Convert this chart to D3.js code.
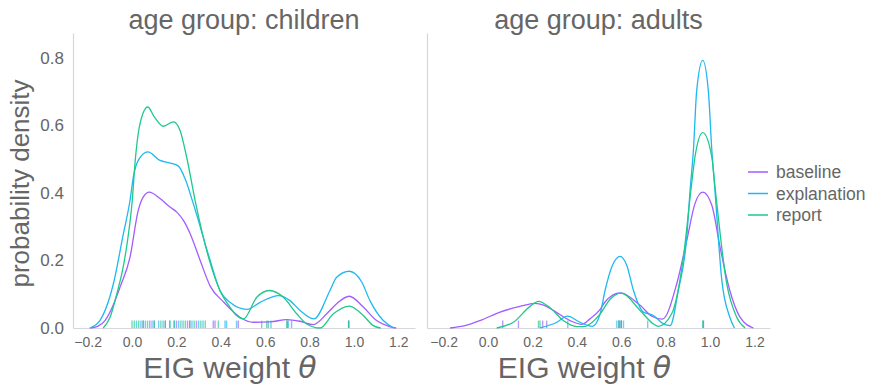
<!DOCTYPE html>
<html><head><meta charset="utf-8">
<script src="https://cdn.jsdelivr.net/npm/d3@7"></script>
<style>body{margin:0;background:#fff}svg{display:block}</style>
</head><body><div id="chart"></div>
<script>
// ---------- DATA ----------
const seriesNames = ["baseline", "explanation", "report"];
const seriesColors = ["#a35cff", "#1fb8f0", "#1ec98b"];
const panelTitles = ["age group: children", "age group: adults"];
const xTicks = [-0.2, 0.0, 0.2, 0.4, 0.6, 0.8, 1.0, 1.2];
const yTicks = [0.0, 0.2, 0.4, 0.6, 0.8];

// density curves: [x, density]
const childrenBaseline = [[-0.19,0],[-0.155,0.005],[-0.122,0.022],[-0.09,0.06],[-0.054,0.121],[-0.009,0.21],[0.028,0.348],[0.051,0.388],[0.078,0.402],[0.126,0.383],[0.171,0.358],[0.202,0.343],[0.235,0.315],[0.262,0.279],[0.307,0.2],[0.352,0.124],[0.411,0.078],[0.486,0.032],[0.546,0.017],[0.622,0.018],[0.697,0.025],[0.757,0.02],[0.817,0.01],[0.877,0.042],[0.922,0.072],[0.979,0.094],[1.042,0.062],[1.102,0.022],[1.16,0.004],[1.19,0]];
const childrenExplanation = [[-0.19,0],[-0.145,0.022],[-0.084,0.131],[-0.039,0.279],[-0.009,0.378],[0.006,0.447],[0.028,0.496],[0.071,0.521],[0.126,0.496],[0.172,0.488],[0.209,0.479],[0.24,0.44],[0.276,0.368],[0.352,0.2],[0.396,0.111],[0.441,0.076],[0.518,0.055],[0.577,0.076],[0.661,0.096],[0.712,0.081],[0.757,0.052],[0.819,0.027],[0.892,0.111],[0.922,0.15],[0.979,0.168],[1.035,0.136],[1.072,0.081],[1.132,0.022],[1.18,0]];
const childrenReport = [[-0.13,0],[-0.1,0.03],[-0.069,0.1],[-0.04,0.18],[-0.02,0.26],[0.0,0.37],[0.015,0.5],[0.036,0.605],[0.071,0.654],[0.1,0.625],[0.141,0.597],[0.187,0.61],[0.216,0.585],[0.246,0.506],[0.284,0.378],[0.351,0.195],[0.396,0.111],[0.441,0.062],[0.471,0.037],[0.502,0.027],[0.562,0.091],[0.619,0.111],[0.682,0.091],[0.742,0.042],[0.787,0.012],[0.847,0.0],[0.907,0.042],[0.979,0.065],[1.042,0.037],[1.087,0.007],[1.12,0]];
const adultsBaseline = [[-0.171,0],[-0.1,0.008],[-0.036,0.022],[0.054,0.047],[0.144,0.064],[0.212,0.073],[0.25,0.068],[0.294,0.052],[0.369,0.022],[0.422,0.011],[0.459,0.027],[0.505,0.055],[0.527,0.077],[0.595,0.104],[0.685,0.067],[0.74,0.034],[0.785,0.026],[0.85,0.131],[0.895,0.259],[0.932,0.368],[0.967,0.402],[1.008,0.363],[1.045,0.239],[1.089,0.111],[1.135,0.032],[1.195,0]];
const adultsExplanation = [[0.234,0],[0.31,0.017],[0.357,0.035],[0.414,0.017],[0.47,0.005],[0.505,0.042],[0.527,0.111],[0.56,0.185],[0.595,0.212],[0.625,0.185],[0.655,0.111],[0.70,0.047],[0.745,0.037],[0.79,0.012],[0.82,0.007],[0.857,0.111],[0.895,0.269],[0.91,0.407],[0.925,0.526],[0.94,0.704],[0.967,0.792],[0.992,0.704],[1.008,0.526],[1.022,0.407],[1.053,0.141],[1.089,0.032],[1.11,0]];
const adultsReport = [[0.039,0],[0.114,0.017],[0.189,0.064],[0.227,0.079],[0.279,0.06],[0.339,0.022],[0.40,0.004],[0.44,0.005],[0.459,0.012],[0.505,0.042],[0.55,0.085],[0.60,0.103],[0.685,0.052],[0.745,0.012],[0.767,0.005],[0.827,0.042],[0.88,0.21],[0.917,0.427],[0.932,0.506],[0.967,0.578],[1.008,0.506],[1.022,0.42],[1.075,0.131],[1.12,0.032],[1.158,0]];

const childrenRugBaseline = [0.05,0.08,0.10,0.15,0.20,0.25,0.26,0.29,0.366,0.374,0.479,0.70,0.976];
const childrenRugExplanation = [0.02,0.04,0.06,0.09,0.12,0.14,0.17,0.19,0.21,0.23,0.27,0.30,0.32,0.419,0.426,0.471,0.626,0.704,0.719,0.976];
const childrenRugReport = [0.0,0.01,0.03,0.05,0.07,0.10,0.13,0.15,0.17,0.19,0.22,0.24,0.26,0.28,0.31,0.33,0.389,0.584,0.607,0.614,0.697,0.976];
const adultsRugBaseline = [0.066,0.137,0.246,0.264,0.59,0.60,0.97];
const adultsRugExplanation = [0.359,0.58,0.59,0.60,0.61,0.719,0.97];
const adultsRugReport = [0.227,0.234,0.59,0.60,0.967];

// ---------- LAYOUT ----------
const W = 871, H = 385;
const font = "'Liberation Sans', Arial, Helvetica, sans-serif";
const textColor = "#666666";
const spineColor = "#d6d6dc";
const plotTop = 33, plotBottom = 328;
const panels = [
  {title: panelTitles[0], left: 73, right: 415, domain: [-0.266, 1.275], showY: true,
   curves: [childrenBaseline, childrenExplanation, childrenReport],
   rugs: [childrenRugBaseline, childrenRugExplanation, childrenRugReport]},
  {title: panelTitles[1], left: 427, right: 770, domain: [-0.275, 1.27], showY: false,
   curves: [adultsBaseline, adultsExplanation, adultsReport],
   rugs: [adultsRugBaseline, adultsRugExplanation, adultsRugReport]}
];

const svg = d3.select("#chart").append("svg").attr("width", W).attr("height", H);
const y = d3.scaleLinear().domain([0, 0.873]).range([plotBottom, plotTop]);
const fmt = d => (d < 0 ? "\u2212" : "") + Math.abs(d).toFixed(1);

panels.forEach(p => {
  const x = d3.scaleLinear().domain(p.domain).range([p.left, p.right]);
  const g = svg.append("g");

  const xa = g.append("g").attr("transform", `translate(0,${plotBottom})`)
    .call(d3.axisBottom(x).tickValues(xTicks).tickSize(0).tickPadding(9).tickFormat(fmt));
  xa.select(".domain").attr("stroke", spineColor).attr("stroke-width", 1.2);
  xa.selectAll("text").attr("fill", textColor).style("font-family", font).style("font-size", "14px");

  const ya = g.append("g").attr("transform", `translate(${p.left},0)`)
    .call(d3.axisLeft(y).tickValues(yTicks).tickSize(0).tickPadding(9).tickFormat(p.showY ? fmt : () => ""));
  ya.select(".domain").attr("stroke", spineColor).attr("stroke-width", 1.2);
  ya.selectAll("text").attr("fill", textColor).style("font-family", font).style("font-size", "17px");

  p.rugs.forEach((r, i) => {
    g.append("g").selectAll("line").data(r).join("line")
      .attr("x1", d => x(d)).attr("x2", d => x(d))
      .attr("y1", plotBottom - 7.4).attr("y2", plotBottom)
      .attr("stroke", seriesColors[i]).attr("stroke-width", 1.4).attr("stroke-opacity", 0.65);
  });

  const line = d3.line().x(d => x(d[0])).y(d => y(d[1])).curve(d3.curveMonotoneX);
  p.curves.forEach((c, i) => {
    g.append("path").datum(c).attr("d", line).attr("fill", "none")
      .attr("stroke", seriesColors[i]).attr("stroke-width", 1.3);
  });

  g.append("text").attr("x", (p.left + p.right) / 2).attr("y", 29)
    .attr("text-anchor", "middle").attr("fill", textColor)
    .style("font-family", font).style("font-size", "27px").text(p.title);

  const xl = g.append("text").attr("x", (p.left + p.right) / 2 - 14).attr("y", 378)
    .attr("text-anchor", "middle").attr("fill", textColor)
    .style("font-family", font).style("font-size", "30px");
  xl.append("tspan").text("EIG weight ");
  xl.append("tspan").style("font-style", "italic").style("font-family", "'DejaVu Sans', sans-serif").text("\u03b8");
});

svg.append("text").attr("transform", `translate(29,${(plotTop + plotBottom) / 2 + 3}) rotate(-90)`)
  .attr("text-anchor", "middle").attr("fill", textColor)
  .style("font-family", font).style("font-size", "26px").text("probability density");

const lg = svg.append("g");
seriesNames.forEach((n, i) => {
  const yy = 172 + i * 21.5;
  lg.append("line").attr("x1", 748).attr("x2", 768).attr("y1", yy).attr("y2", yy)
    .attr("stroke", seriesColors[i]).attr("stroke-width", 1.5);
  lg.append("text").attr("x", 776).attr("y", yy).attr("dy", "0.35em")
    .attr("fill", textColor).style("font-family", font).style("font-size", "17.5px").text(n);
});
</script></body></html>
